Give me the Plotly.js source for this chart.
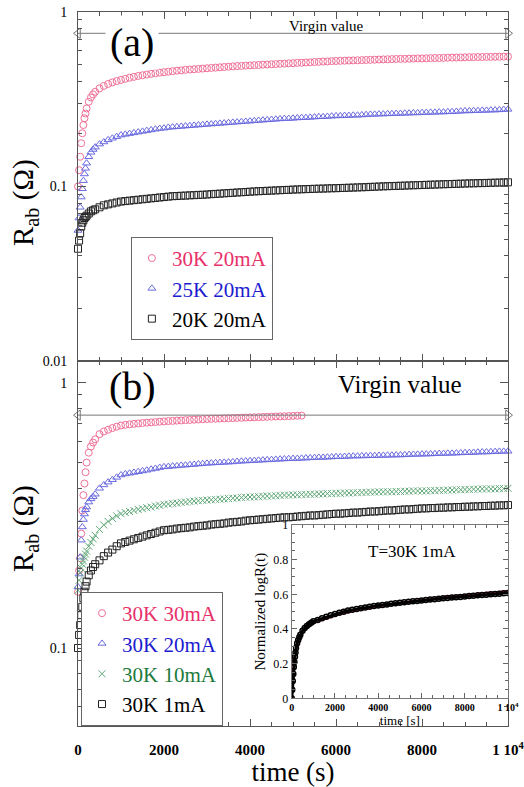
<!DOCTYPE html>
<html><head><meta charset="utf-8">
<script src="https://cdn.plot.ly/plotly-3.0.1.min.js"></script>
<style>html,body{margin:0;padding:0;background:#fff}</style>
</head><body><div id="chart" style="width:524px;height:787px"></div>
<script>
// time samples (s) for the main panels
const timeEarly = [0,25,50,75,100,125,150,175,200,250,300,350,400,500,600,700,800,900];
const timeLate = [1000,1100,1200,1300,1400,1500,1600,1700,1800,1900,
  2000,2100,2200,2300,2400,2500,2600,2700,2800,2900,
  3000,3100,3200,3300,3400,3500,3600,3700,3800,3900,
  4000,4100,4200,4300,4400,4500,4600,4700,4800,4900,
  5000,5100,5200,5300,5400,5500,5600,5700,5800,5900,
  6000,6100,6200,6300,6400,6500,6600,6700,6800,6900,
  7000,7100,7200,7300,7400,7500,7600,7700,7800,7900,
  8000,8100,8200,8300,8400,8500,8600,8700,8800,8900,
  9000,9100,9200,9300,9400,9500,9600,9700,9800,9900,10000];
const time = timeEarly.concat(timeLate);

// panel (a): R_ab (ohm)
const a_30K_20mA = [0.100,0.124,0.148,0.177,0.202,0.225,0.246,0.262,0.280,0.306,0.324,0.337,0.349,0.365,0.377,0.387,0.395,0.402,
  0.408,0.414,0.420,0.425,0.430,0.434,0.438,0.442,0.446,0.449,
  0.452,0.455,0.458,0.461,0.463,0.466,0.468,0.470,0.472,0.474,
  0.476,0.478,0.480,0.482,0.484,0.486,0.488,0.490,0.491,0.493,
  0.494,0.496,0.497,0.499,0.500,0.502,0.503,0.505,0.506,0.508,
  0.509,0.511,0.512,0.514,0.515,0.517,0.518,0.520,0.521,0.523,
  0.524,0.525,0.526,0.527,0.528,0.529,0.530,0.531,0.532,0.533,
  0.534,0.535,0.536,0.537,0.538,0.539,0.539,0.540,0.541,0.542,
  0.542,0.543,0.544,0.545,0.545,0.546,0.547,0.548,0.548,0.549,
  0.550,0.551,0.551,0.552,0.552,0.553,0.553,0.554,0.554,0.555,0.555];
const a_25K_20mA = [0.056,0.066,0.076,0.087,0.097,0.108,0.118,0.127,0.136,0.148,0.157,0.163,0.168,0.175,0.180,0.185,0.189,0.193,
  0.197,0.199,0.201,0.203,0.205,0.207,0.209,0.211,0.213,0.215,
  0.216,0.218,0.219,0.220,0.221,0.222,0.223,0.224,0.225,0.226,
  0.227,0.228,0.229,0.230,0.231,0.232,0.233,0.234,0.235,0.236,
  0.237,0.238,0.239,0.240,0.241,0.242,0.243,0.244,0.245,0.245,
  0.246,0.247,0.248,0.248,0.249,0.250,0.251,0.251,0.252,0.253,
  0.254,0.254,0.255,0.255,0.256,0.256,0.257,0.258,0.259,0.259,
  0.260,0.260,0.261,0.261,0.262,0.262,0.263,0.263,0.264,0.264,
  0.265,0.265,0.266,0.266,0.267,0.267,0.268,0.268,0.269,0.270,
  0.271,0.271,0.272,0.272,0.273,0.273,0.274,0.274,0.275,0.276,0.277];
const a_20K_20mA = [0.044,0.049,0.054,0.059,0.062,0.064,0.066,0.067,0.068,0.070,0.072,0.073,0.074,0.076,0.078,0.079,0.080,0.081,
  0.0820,0.0825,0.0830,0.0835,0.0840,0.0845,0.0850,0.0855,0.0860,0.0865,
  0.0870,0.0875,0.0880,0.0882,0.0885,0.0887,0.0890,0.0892,0.0895,0.0897,
  0.0900,0.0904,0.0907,0.0910,0.0914,0.0917,0.0920,0.0924,0.0927,0.0930,
  0.0934,0.0937,0.0940,0.0942,0.0945,0.0947,0.0950,0.0952,0.0955,0.0957,
  0.0960,0.0962,0.0964,0.0966,0.0968,0.0970,0.0972,0.0973,0.0975,0.0977,
  0.0978,0.0980,0.0982,0.0984,0.0986,0.0988,0.0990,0.0992,0.0995,0.0997,
  0.1000,0.1002,0.1004,0.1006,0.1008,0.1010,0.1012,0.1014,0.1016,0.1018,
  0.1020,0.1022,0.1024,0.1026,0.1028,0.1030,0.1032,0.1034,0.1036,0.1038,
  0.1040,0.1042,0.1043,0.1045,0.1046,0.1048,0.1050,0.1052,0.1053,0.1055,0.1057];

// panel (b): R_ab (ohm)
const b_30K_30mA = [0.163,0.196,0.218,0.270,0.330,0.377,0.417,0.460,0.500,0.545,0.575,0.595,0.612,0.640,0.655,0.665,0.675,0.683,
  0.690,0.694,0.697,0.700,0.702,0.705,0.707,0.709,0.711,0.713,
  0.715,0.717,0.718,0.720,0.721,0.723,0.724,0.726,0.727,0.729,
  0.730,0.731,0.732,0.733,0.734,0.735,0.736,0.737,0.738,0.739,
  0.740,0.741,0.742,0.743,0.744,0.745,0.746,0.747,0.748,0.749,
  0.750,0.751,0.752];
const b_30K_20mA = [0.170,0.190,0.220,0.255,0.286,0.305,0.320,0.332,0.340,0.355,0.365,0.372,0.380,0.400,0.412,0.422,0.431,0.440,
  0.449,0.453,0.456,0.459,0.462,0.465,0.468,0.472,0.475,0.479,
  0.482,0.483,0.485,0.486,0.488,0.489,0.491,0.492,0.494,0.495,
  0.497,0.498,0.499,0.500,0.501,0.502,0.503,0.505,0.506,0.507,
  0.508,0.509,0.510,0.511,0.512,0.513,0.514,0.515,0.516,0.517,
  0.518,0.518,0.519,0.520,0.521,0.522,0.523,0.523,0.524,0.525,
  0.526,0.526,0.527,0.528,0.529,0.529,0.530,0.530,0.531,0.531,
  0.532,0.532,0.533,0.533,0.534,0.534,0.535,0.536,0.537,0.537,
  0.538,0.538,0.539,0.540,0.541,0.541,0.542,0.542,0.543,0.544,
  0.545,0.545,0.546,0.547,0.548,0.548,0.549,0.550,0.551,0.551,0.552];
const b_30K_10mA = [0.165,0.180,0.192,0.200,0.207,0.213,0.220,0.226,0.232,0.242,0.250,0.258,0.266,0.280,0.291,0.300,0.308,0.315,
  0.321,0.324,0.327,0.330,0.333,0.335,0.338,0.340,0.343,0.345,
  0.348,0.349,0.351,0.352,0.354,0.355,0.357,0.358,0.359,0.360,
  0.361,0.362,0.363,0.364,0.365,0.366,0.367,0.368,0.369,0.370,
  0.371,0.371,0.372,0.373,0.374,0.374,0.375,0.376,0.377,0.377,
  0.378,0.378,0.379,0.379,0.380,0.380,0.381,0.381,0.382,0.382,
  0.383,0.383,0.384,0.384,0.385,0.385,0.386,0.386,0.387,0.387,
  0.388,0.388,0.388,0.388,0.389,0.389,0.390,0.390,0.391,0.391,
  0.391,0.391,0.392,0.392,0.393,0.393,0.394,0.394,0.395,0.395,
  0.396,0.396,0.397,0.397,0.398,0.398,0.398,0.398,0.399,0.399,0.400];
const b_30K_1mA = [0.100,0.112,0.122,0.133,0.143,0.154,0.163,0.171,0.178,0.188,0.196,0.202,0.207,0.214,0.222,0.229,0.235,0.242,
  0.248,0.251,0.254,0.257,0.260,0.263,0.266,0.269,0.272,0.275,
  0.278,0.279,0.280,0.282,0.283,0.284,0.285,0.287,0.288,0.289,
  0.290,0.292,0.293,0.294,0.295,0.297,0.298,0.299,0.300,0.302,
  0.303,0.304,0.305,0.306,0.307,0.308,0.309,0.310,0.311,0.311,
  0.312,0.313,0.314,0.315,0.316,0.316,0.317,0.318,0.319,0.320,
  0.321,0.321,0.322,0.323,0.324,0.324,0.325,0.326,0.327,0.327,
  0.328,0.329,0.330,0.330,0.331,0.332,0.333,0.333,0.334,0.335,
  0.336,0.336,0.337,0.337,0.338,0.338,0.339,0.339,0.340,0.340,
  0.341,0.341,0.342,0.342,0.343,0.343,0.344,0.344,0.345,0.345,0.346];

// inset: normalized log R(t), T=30K 1mA
const insetTime = [0,25,50,75,100,125,150,175,200,250,300,350,400,500,600,700,800,900,1000,
  1200,1400,1600,1800,2000,2200,2400,2600,2800,3000,3200,3400,3600,3800,4000,
  4200,4400,4600,4800,5000,5200,5400,5600,5800,6000,6200,6400,6600,6800,7000,
  7200,7400,7600,7800,8000,8200,8400,8600,8800,9000,9200,9400,9600,9800,10000];
const inset_black = [0.000,0.050,0.100,0.140,0.180,0.210,0.240,0.265,0.290,0.317,0.337,0.353,0.367,0.390,0.405,0.417,0.427,0.436,0.444,
  0.452,0.462,0.471,0.479,0.487,0.494,0.500,0.506,0.511,0.516,0.520,0.524,0.528,0.532,0.536,
  0.539,0.542,0.545,0.548,0.551,0.554,0.557,0.560,0.562,0.565,0.567,0.570,0.572,0.574,0.577,
  0.579,0.581,0.583,0.585,0.588,0.590,0.592,0.594,0.596,0.598,0.600,0.602,0.604,0.606,0.608];
const inset_pink = [0.000,0.080,0.140,0.180,0.210,0.235,0.255,0.272,0.288,0.312,0.330,0.345,0.358,0.380,0.396,0.408,0.418,0.427,0.435,
  0.444,0.453,0.462,0.470,0.478,0.486,0.492,0.498,0.504,0.509,0.514,0.519,0.523,0.528,0.532,
  0.536,0.540,0.543,0.547,0.550,0.554,0.557,0.560,0.563,0.566,0.569,0.572,0.575,0.578,0.581,
  0.584,0.587,0.589,0.592,0.595,0.597,0.600,0.602,0.605,0.607,0.609,0.612,0.614,0.616,0.618];

const virginValue = 0.755;
const virginX = [0, 10000];

const xTickVals = [0,2000,4000,6000,8000,10000];
const xTickText = ['0','2000','4000','6000','8000','1 10<sup>4</sup>'];

const SERIF = 'Liberation Serif, serif';
const AX = '#555';
function legName(txt, col){ return '<span style="color:'+col+'">'+txt+'</span>'; }
function ser(x, y, xa, ya, name, col, sym, leg){
  return {type:'scatter', mode:'markers', x:x, y:y, xaxis:xa, yaxis:ya, name:name, legend:leg,
    cliponaxis:false, marker:{symbol:sym, size:7, color:col, line:{width:1, color:col}}};
}

const traces = [
  ser(time, a_30K_20mA, 'x2','y2', legName('30K 20mA','#e8306a'), '#ef7097', 'circle-open', 'legend'),
  ser(time, a_25K_20mA, 'x2','y2', legName('25K 20mA','#1c1ccf'), '#6a6ae0', 'triangle-up-open', 'legend'),
  ser(time, a_20K_20mA, 'x2','y2', legName('20K 20mA','#000'), '#222', 'square-open', 'legend'),
  ser(time.slice(0, b_30K_30mA.length), b_30K_30mA, 'x','y', legName('30K 30mA','#e8306a'), '#ef7097', 'circle-open', 'legend2'),
  ser(time, b_30K_20mA, 'x','y', legName('30K 20mA','#1c1ccf'), '#6a6ae0', 'triangle-up-open', 'legend2'),
  ser(time, b_30K_10mA, 'x','y', legName('30K 10mA','#1d7a3c'), '#5fa877', 'x-thin-open', 'legend2'),
  ser(time, b_30K_1mA, 'x','y', legName('30K 1mA','#000'), '#222', 'square-open', 'legend2'),
  {type:'scatter', mode:'lines+markers', x:virginX, y:[virginValue, virginValue], xaxis:'x2', yaxis:'y2', showlegend:false, cliponaxis:false,
   line:{color:'#777', width:1}, marker:{symbol:['triangle-left-open','triangle-right-open'], size:9, color:'#777', line:{width:1}}},
  {type:'scatter', mode:'lines+markers', x:virginX, y:[virginValue, virginValue], xaxis:'x', yaxis:'y', showlegend:false, cliponaxis:false,
   line:{color:'#777', width:1}, marker:{symbol:['triangle-left-open','triangle-right-open'], size:9, color:'#777', line:{width:1}}},
  {type:'scatter', mode:'lines', x:insetTime, y:inset_pink, xaxis:'x3', yaxis:'y3', showlegend:false,
   line:{color:'#e8306a', width:2.5}},
  {type:'scatter', mode:'lines+markers', x:insetTime, y:inset_black, xaxis:'x3', yaxis:'y3', showlegend:false,
   line:{color:'#000', width:3}, marker:{symbol:'circle-open', size:5, color:'#000', line:{width:1.5}}}
];

const logMinorA = [0.02,0.03,0.04,0.05,0.06,0.07,0.08,0.09,0.2,0.3,0.4,0.5,0.6,0.7,0.8,0.9];
const logMinorB = [0.06,0.07,0.08,0.09,0.2,0.3,0.4,0.5,0.6,0.7,0.8,0.9];
const ySplit = 0.5112;

function xAxisBase(){
  return {range:[0,10000], tickmode:'array', tickvals:xTickVals, ticktext:xTickText, ticks:'inside', ticklen:7, tickwidth:1,
    tickcolor:AX, showline:true, linecolor:AX, linewidth:1, mirror:'ticks', showgrid:false, zeroline:false,
    ticklabeloverflow:'allow',
    minor:{dtick:500, tick0:0, ticks:'inside', ticklen:4, tickcolor:AX, showgrid:false}};
}

const xa = xAxisBase();
Object.assign(xa, {domain:[0,1], anchor:'y', tickfont:{size:15, family:SERIF, weight:'bold'}, ticklabelstandoff:10,
  title:{text:'time (s)', font:{size:27, family:SERIF}, standoff:2}});
const xa2 = xAxisBase();
Object.assign(xa2, {domain:[0,1], anchor:'y2', showticklabels:false, matches:'x'});

const yTitle = 'R<sub>ab</sub> (Ω)';

const layout = {
  width:524, height:787, margin:{l:78, r:16, t:12, b:61},
  paper_bgcolor:'#fff', plot_bgcolor:'#fff',
  font:{family:SERIF, color:'#000'},
  xaxis: xa,
  xaxis2: xa2,
  yaxis:{domain:[0, ySplit], anchor:'x', type:'log', range:[-1.294, 0.082], tickmode:'array', tickvals:[0.1,1], ticktext:['0.1','1'],
    ticks:'inside', ticklen:8, tickcolor:AX, showline:true, linecolor:AX, mirror:'ticks', showgrid:false, zeroline:false,
    tickfont:{size:14, family:SERIF}, ticklabelstandoff:7,
    minor:{tickmode:'array', tickvals:logMinorB, ticks:'inside', ticklen:4, tickcolor:AX, showgrid:false}},
  yaxis2:{domain:[ySplit, 1], anchor:'x2', type:'log', range:[-2, 0], tickmode:'array', tickvals:[0.01,0.1,1], ticktext:['0.01','0.1','1'],
    ticks:'inside', ticklen:8, tickcolor:AX, showline:true, linecolor:AX, mirror:'ticks', showgrid:false, zeroline:false,
    tickfont:{size:14, family:SERIF}, ticklabelstandoff:7,
    minor:{tickmode:'array', tickvals:logMinorA, ticks:'inside', ticklen:4, tickcolor:AX, showgrid:false}},
  xaxis3:{domain:[0.497, 1], anchor:'y3', range:[0,10000], tickmode:'array', tickvals:xTickVals, ticktext:xTickText,
    ticks:'inside', ticklen:5, tickcolor:'#666', showline:true, linecolor:'#777', mirror:'ticks', showgrid:false, zeroline:false,
    tickfont:{size:10, family:SERIF, weight:'bold'}, ticklabelstandoff:0, ticklabeloverflow:'allow',
    minor:{dtick:500, tick0:0, ticks:'inside', ticklen:3, tickcolor:'#666'},
    title:{text:'time [s]', font:{size:13, family:SERIF}, standoff:3}},
  yaxis3:{domain:[0.0388, 0.2815], anchor:'x3', range:[0,1], dtick:0.2, tick0:0,
    ticks:'inside', ticklen:5, tickcolor:'#666', showline:true, linecolor:'#777', mirror:'ticks', showgrid:false, zeroline:false,
    tickfont:{size:12, family:SERIF}, ticklabelstandoff:0,
    minor:{dtick:0.05, tick0:0, ticks:'inside', ticklen:3, tickcolor:'#666'},
    title:{text:'Normalized logR(t)', font:{size:15, family:SERIF}, standoff:4}},
  legend:{x:0.123, y:0.685, xanchor:'left', yanchor:'top', bgcolor:'#fff', bordercolor:'#666', borderwidth:1,
    font:{size:21, family:SERIF}, tracegroupgap:0},
  legend2:{x:0.007, y:0, xanchor:'left', yanchor:'bottom', bgcolor:'#fff', bordercolor:'#666', borderwidth:1,
    font:{size:21, family:SERIF}, tracegroupgap:0},
  annotations:[
    {text:yTitle, xref:'paper', yref:'paper', x:-0.1233, y:0.7339, xanchor:'center', yanchor:'middle', textangle:-90, showarrow:false,
     font:{size:29, family:SERIF}},
    {text:yTitle, xref:'paper', yref:'paper', x:-0.1233, y:0.2773, xanchor:'center', yanchor:'middle', textangle:-90, showarrow:false,
     font:{size:29, family:SERIF}},
    {text:'(a)', xref:'paper', yref:'paper', x:0.1256, y:0.9566, xanchor:'center', yanchor:'middle', showarrow:false,
     font:{size:40, family:SERIF}, bgcolor:'#fff', borderpad:4},
    {text:'Virgin value', xref:'paper', yref:'paper', x:0.579, y:0.9804, xanchor:'center', yanchor:'middle', showarrow:false, font:{size:15, family:SERIF}},
    {text:'(b)', xref:'paper', yref:'paper', x:0.1256, y:0.4748, xanchor:'center', yanchor:'middle', showarrow:false, font:{size:40, family:SERIF}},
    {text:'Virgin value', xref:'paper', yref:'paper', x:0.749, y:0.4776, xanchor:'center', yanchor:'middle', showarrow:false, font:{size:25, family:SERIF}},
    {text:'T=30K 1mA', xref:'paper', yref:'paper', x:0.777, y:0.2437, xanchor:'center', yanchor:'middle', showarrow:false, font:{size:17, family:SERIF}}
  ]
};

Plotly.newPlot('chart', traces, layout, {displayModeBar:false, staticPlot:true});
</script>
</body></html>
